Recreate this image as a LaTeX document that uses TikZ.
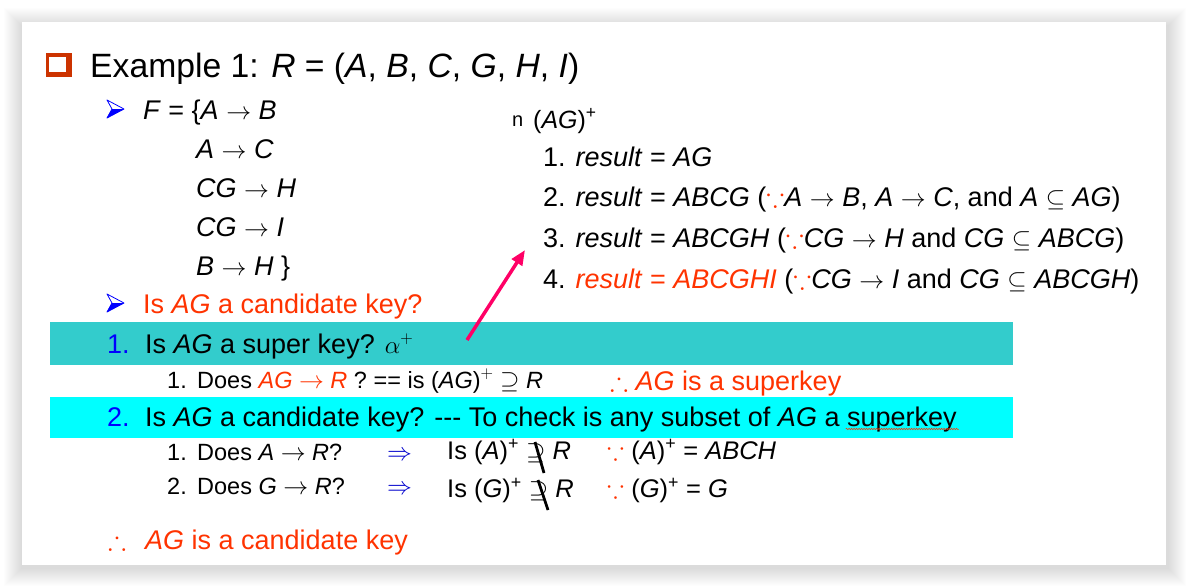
\documentclass[tikz,border=0pt]{standalone}
\usepackage{amsmath,amssymb}
\usepackage{xcolor}
\usepackage{fontspec}
\setmainfont{Liberation Sans}
\usetikzlibrary{positioning,calc,arrows.meta,decorations.pathmorphing}

\definecolor{slidered}{RGB}{255,51,0}
\definecolor{bulletred}{RGB}{204,51,0}
\definecolor{tealbar}{RGB}{51,204,204}
\definecolor{cyanbar}{RGB}{0,255,255}
\definecolor{numblue}{RGB}{0,0,255}
\definecolor{impblue}{RGB}{0,0,204}
\definecolor{arrowpink}{RGB}{255,0,102}

\newcommand{\va}[1]{\textit{#1}}
\newcommand{\ra}{$\rightarrow$}

\tikzset{
  line/.style={anchor=base west, inner sep=0pt, font=\fontsize{27}{32}\selectfont},
  smallline/.style={line, font=\fontsize{23.5}{28}\selectfont},
  checkline/.style={line, font=\fontsize{25.5}{30}\selectfont},
  titleline/.style={line, font=\fontsize{33.7}{40}\selectfont},
  strike/.style={line width=2.8pt, black},
  pinkarrow/.style={arrowpink, line width=3.5pt, -{Triangle[length=15pt,width=12pt]}},
  spellmark/.style={slidered, line width=0.5pt, decorate,
    decoration={snake, amplitude=0.8pt, segment length=2.5pt}},
  arrowbullet/.pic={
    \fill[numblue] (5,0) -- (17,0) -- (0,9) -- cycle;
    \draw[numblue, line width=0.8pt, line join=round] (5,0) -- (0,-9) -- (17,0) -- (0,9) -- cycle;
  }
}

\begin{document}
\begin{tikzpicture}[x=1pt, y=-1pt]
    \useasboundingbox (0,0) rectangle (1188,587);

    % slide with soft shadow
    \foreach \s in {1,...,18}
      \fill[black, opacity=0.006] (22-\s,22-\s+4) rectangle (1166+\s+2,565+\s+3);
    \fill[white] (22,22) rectangle (1166,565);

    % Title
    \fill[bulletred] (46,53) rectangle (72,77);
    \fill[white] (49.3,56.5) rectangle (65.7,71.5);
    \node[titleline] (title) at (90,77) {Example 1: \va{R} = (\va{A}, \va{B}, \va{C}, \va{G}, \va{H}, \va{I})};

    % F
    \pic at (107,109) {arrowbullet};
    \node[line] (fd1) at (143,119) {\va{F} = \{\va{A} \ra{} \va{B}};
    \node[line] (fd2) at (196,158) {\va{A} \ra{} \va{C}};
    \node[line] (fd3) at (196,197) {\va{CG} \ra{} \va{H}};
    \node[line] (fd4) at (196,236) {\va{CG} \ra{} \va{I}};
    \node[line] (fd5) at (196,275) {\va{B} \ra{} \va{H} \}};

    \pic at (107,303) {arrowbullet};
    \node[line, text=slidered] (ckq) at (143,313) {Is \va{AG} a candidate key?};

    % Closure
    \node[line, font=\fontsize{20}{24}\selectfont] (closbul) at (512,126) {n};
    \node[line, font=\fontsize{25}{30}\selectfont] (clos) at (533,128) {(\va{AG})\textsuperscript{+}};
    \node[line] (res1) at (543,166.5) {1. \va{result} = \va{AG}};
    \node[line] (res2) at (543,206.5) {2. \va{result} = \va{ABCG} ({\color{slidered}$\because$}\va{A} \ra{} \va{B}, \va{A} \ra{} \va{C}, and \va{A} $\subseteq$ \va{AG})};
    \node[line] (res3) at (543,247.5) {3. \va{result} = \va{ABCGH} ({\color{slidered}$\because$}\va{CG} \ra{} \va{H} and \va{CG} $\subseteq$ \va{ABCG})};
    \node[line] (res4) at (543,288) {4. {\color{slidered}\va{result} = \va{ABCGHI}} ({\color{slidered}$\because$}\va{CG} \ra{} \va{I} and \va{CG} $\subseteq$ \va{ABCGH})};

    % Super key
    \fill[tealbar] (50,322) rectangle (1013,365);
    \node[line] (sk) at (107,353) {\makebox[38pt][l]{\color{numblue}1.}Is \va{AG} a super key? $\alpha^+$};
    \node[smallline] (skq) at (167,388) {\makebox[30pt][l]{1.}Does {\color{slidered}\va{AG} \ra{} \va{R}} ? == is (\va{AG})$^+$ $\supseteq$ \va{R}};
    \node[line, text=slidered] (skres) at (610,390) {$\therefore$ \va{AG} is a superkey};

    \coordinate (tail) at (467,340);
    \coordinate (tip) at (525,250);
    \draw[pinkarrow] (tail) -- (tip);

    % Candidate key
    \fill[cyanbar] (50,397) rectangle (1013,438);
    \node[line] (ck) at (107,426) {\makebox[38pt][l]{\color{numblue}2.}Is \va{AG} a candidate key? -{}-{}- To check is any subset of \va{AG} a superkey};
    \draw[spellmark] ($(ck.base east)+(-111,3)$) -- ($(ck.base east)+(2,3)$);

    \node[smallline] (subA) at (167,460) {\makebox[30pt][l]{1.}Does \va{A} \ra{} \va{R}?};
    \node[smallline, text=impblue] (impA) at (387,460) {$\Rightarrow$};
    \node[checkline] (isA) at (447,459) {Is (\va{A})\textsuperscript{+} $\supseteq$ \va{R}};
    \node[checkline] (whyA) at (607,459) {{\color{slidered}$\because$} (\va{A})\textsuperscript{+} = \va{ABCH}};
    \coordinate (strikeAtop) at (535,442);
    \coordinate (strikeAbot) at (544,473);
    \draw[strike] (strikeAtop) -- (strikeAbot);

    \node[smallline] (subG) at (167,494) {\makebox[30pt][l]{2.}Does \va{G} \ra{} \va{R}?};
    \node[smallline, text=impblue] (impG) at (387,494) {$\Rightarrow$};
    \node[checkline] (isG) at (447,497.5) {Is (\va{G})\textsuperscript{+} $\supseteq$ \va{R}};
    \node[checkline] (whyG) at (607,497.5) {{\color{slidered}$\because$} (\va{G})\textsuperscript{+} = \va{G}};
    \coordinate (strikeGtop) at (538,480);
    \coordinate (strikeGbot) at (548,510);
    \draw[strike] (strikeGtop) -- (strikeGbot);

    \node[line, text=slidered] (ckres) at (108,549) {\makebox[37pt][l]{$\therefore$}\va{AG} is a candidate key};
\end{tikzpicture}
\end{document}
